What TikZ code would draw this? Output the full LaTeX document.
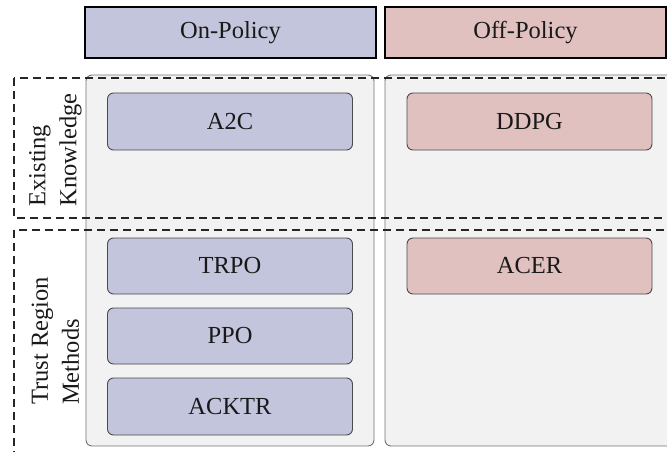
\documentclass[tikz,border=0pt]{standalone}
\usepackage{fontspec}
\setmainfont{Liberation Serif}
\usetikzlibrary{positioning}

\definecolor{onfill}{RGB}{195,197,220}
\definecolor{offfill}{RGB}{224,193,192}
\definecolor{colfill}{RGB}{242,242,242}
\definecolor{colline}{RGB}{115,115,115}
\definecolor{boxline}{RGB}{75,75,75}

\tikzset{
  txt/.style={font=\fontsize{24.5}{31}\selectfont, text=black!90},
  header/.style={txt, draw=black, line width=1.3pt, inner sep=0pt},
  column/.style={draw=colline, fill=colfill, line width=0.9pt, rounded corners=6pt},
  algo/.style={txt, draw=boxline, line width=0.9pt, rounded corners=6pt,
    inner sep=0pt, minimum width=245pt, minimum height=57pt},
  onalgo/.style={algo, fill=onfill},
  offalgo/.style={algo, fill=offfill},
  group/.style={draw=black!85, line width=1.3pt, dash pattern=on 8pt off 5pt},
  grouplabel/.style={txt, rotate=90, align=left, inner sep=0pt},
}

\begin{document}
\begin{tikzpicture}[x=1pt,y=-1pt]
  \useasboundingbox (0,0) rectangle (667,452);
  \clip (0,0) rectangle (667,452);

  % column headers
  \node[header, fill=onfill, minimum width=291pt, minimum height=51pt] (onh) at (230.5,32.5) {On-Policy};
  \node[header, fill=offfill, minimum width=281pt, minimum height=51pt] (offh) at (525.5,32.5) {Off-Policy};

  % column panels
  \draw[column] (86,75) rectangle (374,446);
  \draw[column] (385,75) rectangle (680,446);

  % on-policy methods
  \node[onalgo] (a2c) at (230,121.5) {A2C};
  \node[onalgo, minimum height=56pt] (trpo) at (230,266) {TRPO};
  \node[onalgo, minimum height=56pt] (ppo) at (230,336) {PPO};
  \node[onalgo] (acktr) at (230,406.5) {ACKTR};

  % off-policy methods
  \node[offalgo] (ddpg) at (529.5,121.5) {DDPG};
  \node[offalgo, minimum height=56pt] (acer) at (529.5,266) {ACER};

  % row groups
  \draw[group] (14,78) rectangle (700,218);
  \draw[group] (14,230) rectangle (700,480);

  \node[grouplabel] (ek) at (55.5,150) {Existing\\Knowledge};
  \node[grouplabel] (tr) at (55.5,341) {Trust Region\\Methods};
\end{tikzpicture}
\end{document}
